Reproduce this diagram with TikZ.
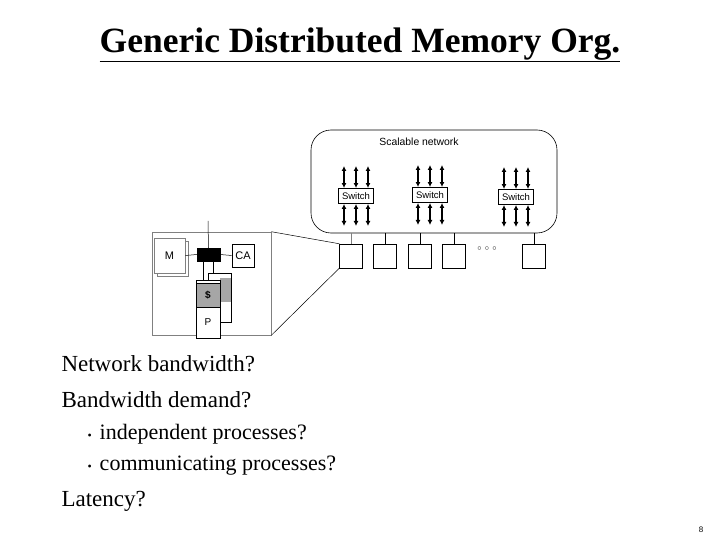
\documentclass[tikz,border=0pt]{standalone}
\usepackage{fontspec}
\setmainfont{Liberation Serif}
\newfontfamily\dsans{Liberation Sans}
\usetikzlibrary{arrows.meta}
\begin{document}
\begin{tikzpicture}[x=1pt,y=-1pt,
  box/.style={draw,line width=0.6pt,fill=white},
  sw/.style={draw,line width=0.9pt,fill=white,minimum width=35pt,minimum height=15pt,inner sep=0pt,font=\dsans\fontsize{9.5}{10}\selectfont},
  nd/.style={draw,line width=0.5pt,minimum width=23pt,minimum height=24pt,inner sep=0pt},
  ar/.style={{Latex[length=5pt,width=5pt]}-{Latex[length=5pt,width=5pt]},line width=1.3pt},
  body/.style={anchor=west,font=\fontsize{23}{27}\selectfont}]
\useasboundingbox (0,0) rectangle (720,540);
\node[font=\bfseries\fontsize{35.5}{40}\selectfont] (title) at (360,45) {\underline{Generic Distributed Memory Org.}};
% cloud
\draw[line width=0.6pt,rounded corners=20pt] (311,130) rectangle (557,233);
\node[font=\dsans\fontsize{10.4}{12}\selectfont] (sn) at (419,142) {Scalable network};
\foreach \n/\x/\y in {s1/356/196,s2/430/195,s3/516/197}{
  \node[sw] (\n) at (\x,\y) {Switch};
  \foreach \d in {-12,0,12}{
    \coordinate (\n u\d) at (\x+\d,\y-30);
    \coordinate (\n d\d) at (\x+\d,\y+30);
    \draw[ar] (\n.north -| \n u\d) -- (\n u\d);
    \draw[ar] (\n.south -| \n d\d) -- (\n d\d);
  }}
% nodes
\foreach \n/\x in {n1/351,n2/385,n3/420,n4/454,n5/534}{
  \node[nd] (\n) at (\x,256) {};
  \coordinate (\n t) at (\x,233);
  \draw[line width=0.5pt] (\n.north) -- (\n t);}
\draw[gray,line width=0.6pt] (n1.north) -- (n1t);
\node[font=\dsans\fontsize{8}{9}\selectfont] (dots) at (487,249) {$\circ\,\circ\,\circ$};
% zoom box
\node[draw,gray,line width=0.6pt,minimum width=119pt,minimum height=103pt,inner sep=0pt] (zb) at (211.5,283.5) {};
\draw[line width=0.5pt] (zb.north east) -- (n1.north west);
\draw[line width=0.5pt] (zb.south east) -- (n1.south west);
% M
\draw[gray,fill=white,line width=0.5pt] (157,241) rectangle (188,276);
\node[box,draw=gray,minimum width=31pt,minimum height=35pt,inner sep=0pt,font=\dsans\fontsize{11}{12}\selectfont] (M) at (169.5,255.5) {M};
\node[draw,fill=black,minimum width=23pt,minimum height=13pt,inner sep=0pt] (bar) at (208.5,254.5) {};
\node[box,minimum width=22pt,minimum height=23pt,inner sep=0pt,font=\dsans\fontsize{11}{12}\selectfont] (CA) at (243,255.5) {CA};
\coordinate (top) at (208,221);
\draw[line width=0.5pt] (bar.north) -- (top);
\draw[line width=0.5pt] (M.east) -- (bar.west);
\draw[line width=0.5pt] (bar.east) -- (CA.west);
% P stack back
\draw[fill=white,line width=0.5pt] (208,273) rectangle (231,322);
\fill[gray!70] (220,278) rectangle (231,302);
% P stack front
\draw[line width=0.5pt] (203,261) -- (203,280);
\draw[line width=0.5pt] (213,261) -- (213,273);
\draw[fill=white,line width=0.5pt] (196,280) rectangle (220,338);
\node[draw,fill=gray!70,line width=0.5pt,minimum width=24pt,minimum height=24pt,inner sep=0pt,font=\dsans\bfseries\fontsize{10}{11}\selectfont] (cache) at (208,295) {\$};
\node[draw,fill=white,line width=0.5pt,minimum width=24pt,minimum height=31pt,inner sep=0pt,font=\dsans\fontsize{10}{11}\selectfont] (P) at (208,322.5) {P};
% text
\node[body] (t1) at (58,364) {Network bandwidth?};
\node[body] (t2) at (58,400) {Bandwidth demand?};
\node[body] (t3) at (84,434) {\fontsize{12}{14}\selectfont\textbullet\hspace{8pt}\fontsize{22}{26}\selectfont independent processes?};
\node[body] (t4) at (84,466) {\fontsize{12}{14}\selectfont\textbullet\hspace{8pt}\fontsize{22}{26}\selectfont communicating processes?};
\node[body] (t5) at (58,501) {Latency?};
\node[font=\dsans\fontsize{8}{9}\selectfont] (pg) at (701,530) {8};
\end{tikzpicture}
\end{document}
